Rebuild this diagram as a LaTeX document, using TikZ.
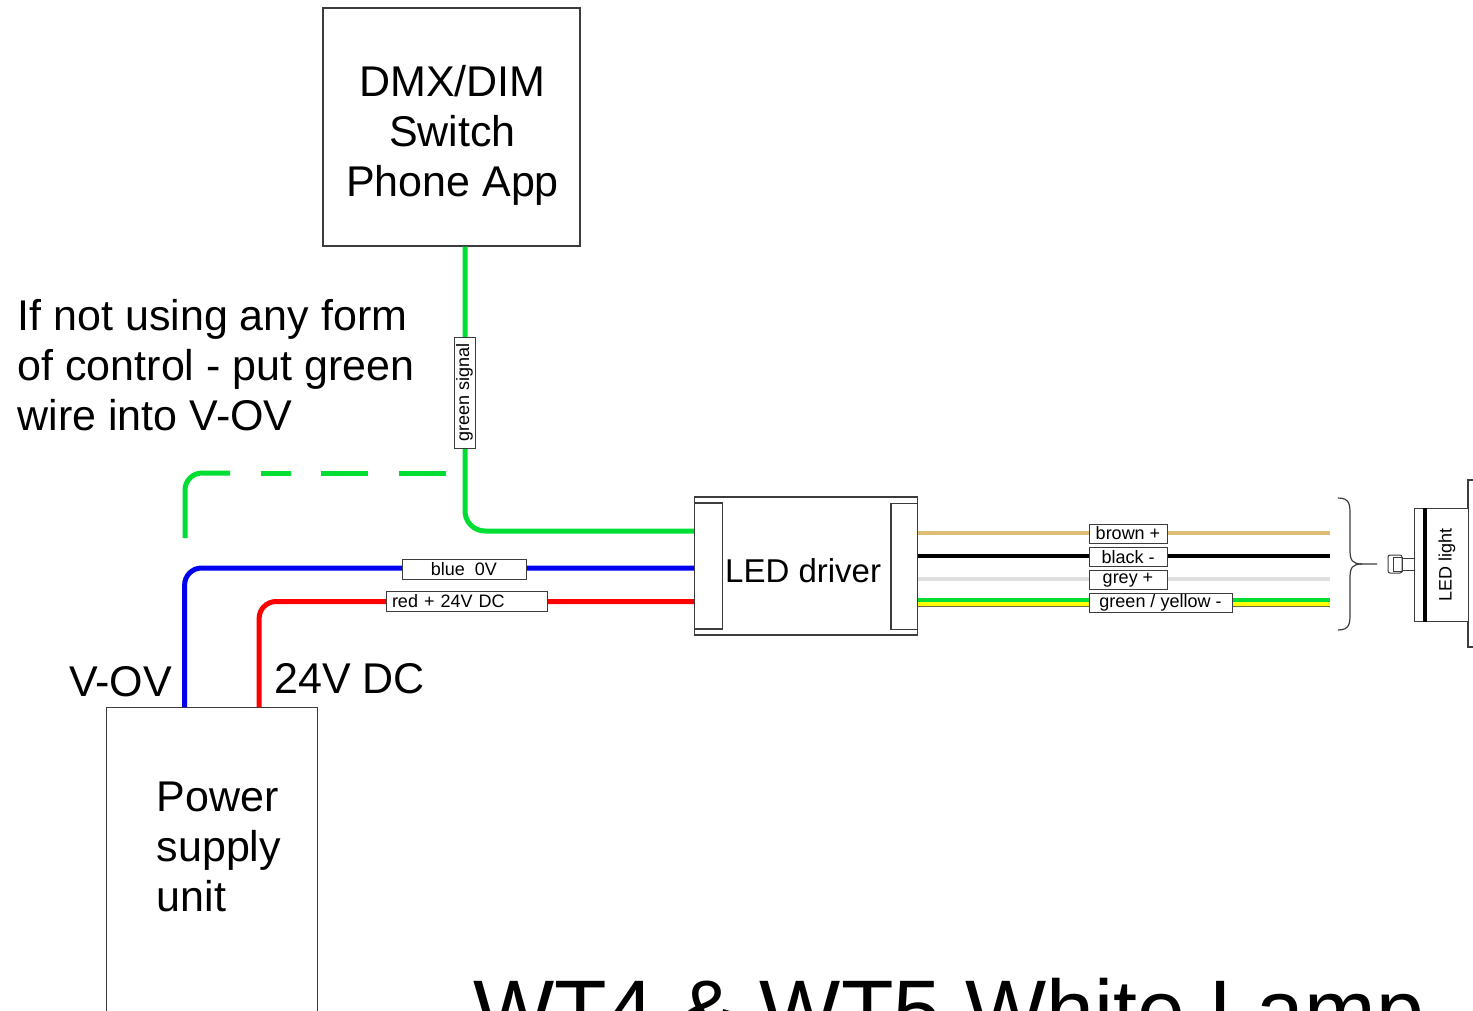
\documentclass[tikz,border=0pt]{standalone}
\usepackage{fontspec}
\setmainfont{Liberation Sans}
\definecolor{wgreen}{RGB}{0,221,51}
\definecolor{wblue}{RGB}{0,0,240}
\definecolor{wred}{RGB}{255,0,0}
\definecolor{wbrown}{RGB}{219,190,115}
\definecolor{wgrey}{RGB}{222,222,222}
\definecolor{wyellow}{RGB}{255,255,0}
\definecolor{wolive}{RGB}{110,110,60}
\definecolor{edge}{RGB}{60,60,60}
\begin{document}
\begin{tikzpicture}[x=1pt,y=-1pt,
  box/.style={draw=edge, line width=1.2pt, fill=white, inner sep=0pt},
  big/.style={inner sep=0pt, font=\fontsize{43}{50}\selectfont},
  tag/.style={draw=edge, line width=1pt, fill=white, inner sep=0pt, minimum height=19pt, font=\fontsize{18}{18}\selectfont},
  wire/.style={line width=5pt},
  rwire/.style={line width=4.5pt}]
\useasboundingbox (0,0) rectangle (1473,1011);

% boxes
\node[box, minimum width=257pt, minimum height=238pt] (dmx) at (451.5,127) {};
\node[big, align=center, anchor=north] (dmxt) at (452.5,64.7) {DMX/DIM\\Switch\\Phone App};

\node[box, minimum width=211pt, minimum height=330pt, anchor=north west] (psu) at (105.5,707) {};
\node[big, align=left, anchor=north west] (psut) at (156.5,781.5) {Power\\supply\\unit};

% text
\node[big, align=left, anchor=north west] (note) at (17.5,299.5) {If not using any form\\of control - put green\\wire into V-OV};
\node[big, anchor=base west] (vov) at (69,696) {V-OV};
\node[big, anchor=base west] (dc) at (274,693) {24V DC};

% coordinates
\coordinate (gy) at (0,531);
\coordinate (by) at (0,568);
\coordinate (ry) at (0,601.5);
\coordinate (brE) at (1330,533);
\coordinate (blE) at (1330,556);
\coordinate (grE) at (1330,579);
\coordinate (gnE) at (1330,600);
\coordinate (yeE) at (1330,603.5);
\coordinate (olE) at (1330,606.5);

\node[box, minimum width=223pt, minimum height=138pt] (drv) at (806,566) {};

% left wires
\draw[wire, wgreen, rounded corners=20pt] ([xshift=13.5pt]dmx.south) |- (drv.west |- gy);
\draw[wire, wblue, rounded corners=17pt] ([xshift=-27pt]psu.north) |- (drv.west |- by);
\draw[wire, wred, rounded corners=17pt] ([xshift=47.5pt]psu.north) |- (drv.west |- ry);

% dashed green alternative
\coordinate (dA) at (185,538);
\coordinate (dB) at (230,473);
\draw[wire, wgreen, rounded corners=17pt] (dA) |- (dB);
\draw[wire, wgreen] (260.7,473) -- (290.7,473);
\draw[wire, wgreen] (321,473) -- (368,473);
\draw[wire, wgreen] (399,473) -- (446,473);

% right wires
\draw[rwire, wbrown] (drv.east |- brE) -- (brE);
\draw[rwire, black] (drv.east |- blE) -- (blE);
\draw[rwire, wgrey] (drv.east |- grE) -- (grE);
\draw[line width=1pt, wolive] (drv.east |- olE) -- (olE);
\draw[line width=4pt, wyellow] (drv.east |- yeE) -- (yeE);
\draw[line width=3.5pt, wgreen] (drv.east |- gnE) -- (gnE);

% driver
\node[box, minimum width=223pt, minimum height=138pt] (drv2) at (drv) {};
\node[box, minimum width=28pt, minimum height=126pt, anchor=west] (drvL) at (drv.west) {};
\node[box, minimum width=26.5pt, minimum height=126pt, anchor=east] (drvR) at ([yshift=-0.5pt]drv.east) {};
\node[inner sep=0pt, anchor=base west, font=\fontsize{33}{33}\selectfont] (drvt) at (725,582) {LED driver};

% tags
\node[tag, minimum width=111pt, minimum height=21pt, rotate=90] (gsig) at (464.5,392.5) {green signal};
\node[tag, minimum width=124pt, minimum height=20pt] (tblue) at (464,569) {blue\ \ 0V};
\node[tag, minimum width=161pt, minimum height=20pt, text width=149pt, align=left, inner xsep=6pt] (tred) at (466.5,601) {red + 24V DC};
\node[tag, minimum width=78pt] (tbr) at (1128,533.5) {brown +};
\node[tag, minimum width=78pt] (tbl) at (1128,557) {black -};
\node[tag, minimum width=78pt] (tgr) at (1128,580) {grey +};
\node[tag, minimum width=143pt] (tgy) at (1160.5,602.5) {green / yellow -};

% brace
\draw[edge, line width=1.2pt] (1338,498) .. controls (1350,498) and (1350,505) .. (1350,515) -- (1350,550)
  .. controls (1350,560) and (1352,564) .. (1362,564) -- (1377,564);
\draw[edge, line width=1.2pt] (1338,630) .. controls (1350,630) and (1350,623) .. (1350,613) -- (1350,578)
  .. controls (1350,568) and (1352,564) .. (1362,564);

% LED light
\draw[edge, line width=1.2pt] (1490,480) -- (1468,480) -- (1468,647) -- (1490,647);
\node[box, minimum width=54pt, minimum height=113pt, anchor=north west] (lamp) at (1414,508) {};
\draw[line width=4.5pt] ([xshift=11pt]lamp.north west) -- ([xshift=11pt]lamp.south west);
\node[inner sep=0pt, rotate=90, font=\fontsize{18}{18}\selectfont] (lampt) at (1447,565) {LED light};
\draw[edge, line width=1pt] (lamp.west |- 0,558) -- (1402,558);
\draw[edge, line width=1pt] (lamp.west |- 0,570) -- (1402,570);
\node[draw=edge, line width=1pt, fill=white, rounded corners=2pt, minimum width=14pt, minimum height=18pt, inner sep=0pt] (plug) at (1395,564) {};
\draw[edge, line width=0.8pt] (1393,557) rectangle (1402,571);

% title
\node[inner sep=0pt, anchor=base west, font=\fontsize{86}{90}\selectfont] (title) at (473,1040) {WT4 \& WT5 White Lamp};
\end{tikzpicture}
\end{document}
